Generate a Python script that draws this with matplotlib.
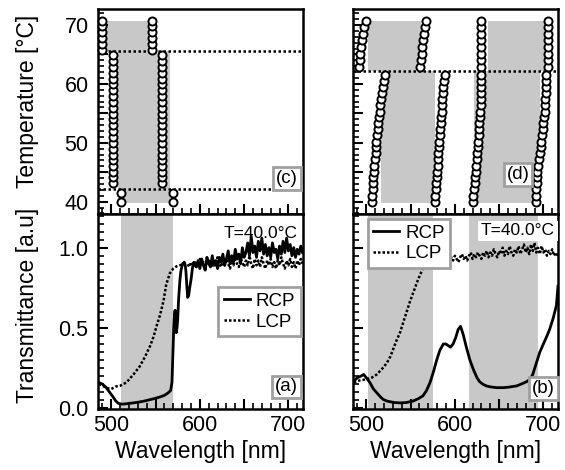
import matplotlib
matplotlib.use("Agg")
import matplotlib.pyplot as plt
import numpy as np
from matplotlib.ticker import MultipleLocator, FuncFormatter

plt.rcParams['font.family'] = ['Liberation Sans', 'DejaVu Sans']

"----- data read off the figure -----"
# (c) band edges vs temperature (single pitch sample)
c_T_top = [65.8, 66.8, 67.8, 68.8, 69.8, 70.7]
c_T_mid = [43.1, 44.1, 45.1, 46.1, 47.1, 48.0, 49.0, 50.0, 51.0, 52.0, 53.0,
           54.0, 54.9, 55.9, 56.9, 57.9, 58.9, 59.9, 60.9, 61.9, 62.9, 63.9, 64.9]
c_T_low = [40.0, 41.4]
c_wl_left = [489.0, 501.5, 510.5]    # top, mid, low group
c_wl_right = [545.5, 556.8, 569.9]
c_dotted = [42.1, 65.5]
c_gray_top = [494.7, 541.6, 65.5, 70.6]   # wl0, wl1, T0, T1
c_gray_low = [508.0, 566.0, 39.7, 65.5]

# (d) band edges vs temperature (double pitch sample)
d_T_top = [62.9, 64.0, 65.1, 66.2, 67.4, 68.5, 69.6, 70.7]
d_T_low = [40.0, 41.0, 42.1, 43.1, 44.1, 45.1, 46.1, 47.2, 48.2, 49.2, 50.2,
           51.3, 52.3, 53.3, 54.3, 55.3, 56.4, 57.4, 58.4, 59.4, 60.5, 61.5]
d_top1 = [491.7, 492.5, 493.3, 494.4, 495.6, 496.3, 497.0, 500.0]
d_top2 = [561.1, 561.8, 562.6, 563.4, 564.1, 564.9, 566.0, 567.1]
d_top3 = [630.0, 630.0, 630.0, 630.0, 630.0, 630.0, 630.0, 630.0]
d_top4 = [705.5, 705.5, 705.5, 705.5, 705.5, 705.5, 705.5, 705.5]
d_low1 = [506.0, 506.5, 507.0, 507.5, 508.0, 508.5, 509.0, 510.0, 510.5, 511.0, 511.5,
          512.0, 513.0, 513.5, 514.0, 515.0, 516.0, 517.0, 518.0, 519.0, 520.0, 521.0]
d_low2 = [577.5, 578.0, 578.5, 579.0, 579.5, 580.0, 580.5, 581.0, 581.5, 582.0, 582.5,
          583.0, 583.5, 584.0, 584.5, 585.0, 585.5, 586.0, 586.5, 587.0, 588.0, 588.7]
d_low3 = [620.0, 620.8, 621.5, 622.2, 622.8, 623.4, 624.0, 624.6, 625.2, 625.8, 626.3,
          626.8, 627.3, 627.8, 628.2, 628.6, 629.0, 629.3, 629.6, 629.8, 630.0, 630.0]
d_low4 = [691.8, 692.0, 692.2, 692.4, 692.5, 693.0, 693.8, 694.8, 695.8, 696.8, 697.5,
          698.5, 699.3, 700.0, 700.7, 701.3, 701.8, 702.2, 702.5, 702.8, 703.0, 703.2]
d_dotted = 62.2
d_gray = [[502.0, 562.0, 62.2, 70.6], [637.0, 703.0, 62.2, 70.6],
          [517.0, 578.0, 39.7, 62.2], [622.0, 696.0, 39.7, 62.2]]

# (a) spectra at 40 C
a_rcp_wl = [486, 490, 494, 498, 502, 505, 508, 512, 516, 520, 525, 530, 535, 540, 545,
            550, 555, 560, 564, 567, 568.5, 569.6, 570.5, 571.3, 572, 572.7, 573.4,
            574.2, 574.9, 576, 577.5, 578.7, 580.5, 582.4, 583.5, 584.3, 585.2, 586.2,
            587.3, 588.5, 590, 591.8]
a_rcp_T = [0.16, 0.15, 0.13, 0.10, 0.07, 0.045, 0.03, 0.025, 0.027, 0.03, 0.033, 0.037,
           0.042, 0.048, 0.055, 0.062, 0.07, 0.08, 0.095, 0.11, 0.16, 0.35, 0.5, 0.58,
           0.61, 0.52, 0.47, 0.5, 0.55, 0.68, 0.8, 0.86, 0.9, 0.91, 0.89, 0.85, 0.77,
           0.69, 0.70, 0.75, 0.80, 0.88]
a_rcp_noisy = [0.90, 0.88, 0.92, 0.87, 0.93, 0.89, 0.86, 0.94, 0.90, 0.88, 0.95, 0.89,
               0.92, 0.87, 0.94, 0.91, 0.96, 0.89, 0.93, 0.98, 0.90, 0.95, 0.91, 0.99,
               0.93, 0.96, 0.90, 1.00, 0.94, 0.97, 1.03, 0.95, 1.07, 0.97, 1.01, 0.94,
               1.04, 0.98, 1.06, 0.96, 1.02, 0.95, 1.00, 0.94, 1.03, 0.97, 0.99, 0.93,
               1.01, 0.96, 1.04, 0.97, 1.06, 0.98, 1.02, 0.95, 1.00, 0.94, 0.99, 0.96,
               1.01, 0.97]          # from 594 nm, every 2 nm
a_lcp_wl = [486, 490, 495, 500, 505, 510, 517, 525, 532, 538, 544, 548, 551, 555, 559,
            562, 566, 570, 574, 580, 584]
a_lcp_T = [0.15, 0.14, 0.125, 0.12, 0.135, 0.14, 0.16, 0.21, 0.26, 0.32, 0.39, 0.45,
           0.51, 0.58, 0.67, 0.77, 0.84, 0.87, 0.885, 0.895, 0.90]
a_lcp_noisy = [0.90, 0.88, 0.91, 0.89, 0.92, 0.88, 0.90, 0.93, 0.89, 0.91, 0.87, 0.92,
               0.90, 0.93, 0.88, 0.91, 0.89, 0.94, 0.90, 0.88, 0.92, 0.89, 0.93, 0.90,
               0.87, 0.92, 0.89, 0.94, 0.90, 0.88, 0.93, 0.91, 0.88, 0.92, 0.89, 0.95,
               0.90, 0.87, 0.93, 0.89, 0.92, 0.88, 0.94, 0.90, 0.87, 0.92, 0.89, 0.93,
               0.88, 0.91, 0.87, 0.92, 0.89, 0.94, 0.90, 0.87, 0.92, 0.89, 0.93, 0.88,
               0.91, 0.87, 0.92, 0.89, 0.93, 0.90]      # from 586 nm, every 2 nm

# (b) spectra at 40 C
b_rcp_wl = [486, 490, 494, 497, 500, 504, 508, 512, 516, 519, 523, 527, 532, 538, 545,
            553, 559, 564, 568, 572, 576, 579.5, 583, 587, 590, 592.5, 595, 598, 601,
            603.7, 606.4, 609.4, 613, 617, 621, 625, 628, 632, 636, 640, 647, 655, 662,
            670, 677, 681, 685, 688, 692, 696, 700, 704, 707, 711, 714.7, 716.5]
b_rcp_T = [0.17, 0.19, 0.20, 0.21, 0.19, 0.16, 0.12, 0.095, 0.07, 0.055, 0.045, 0.04,
           0.035, 0.033, 0.035, 0.045, 0.06, 0.077, 0.11, 0.16, 0.23, 0.30, 0.36, 0.40,
           0.40, 0.39, 0.38, 0.40, 0.44, 0.49, 0.51, 0.46, 0.38, 0.30, 0.24, 0.19, 0.165,
           0.148, 0.138, 0.133, 0.128, 0.128, 0.132, 0.139, 0.155, 0.165, 0.18, 0.21,
           0.28, 0.35, 0.40, 0.45, 0.49, 0.56, 0.64, 0.76]
b_lcp_wl = [486, 490, 495, 500, 506, 511.7, 517, 523, 527, 530.5, 534, 538, 542, 545.6,
            549, 553, 557, 560.6, 564, 568, 572, 575.7, 580]
b_lcp_T = [0.16, 0.17, 0.175, 0.18, 0.19, 0.21, 0.24, 0.28, 0.32, 0.37, 0.42, 0.47,
           0.54, 0.60, 0.66, 0.72, 0.78, 0.83, 0.87, 0.89, 0.91, 0.93, 0.93]
b_lcp_noisy = [0.93, 0.91, 0.94, 0.92, 0.95, 0.93, 0.91, 0.94, 0.92, 0.95, 0.93, 0.91,
               0.94, 0.96, 0.93, 0.95, 0.92, 0.95, 0.97, 0.93, 0.96, 0.94, 0.97, 0.95,
               0.93, 0.97, 0.95, 0.98, 0.94, 0.97, 0.95, 0.99, 0.96, 0.94, 0.98, 0.96,
               1.00, 0.95, 0.98, 0.96, 1.01, 0.97, 0.95, 0.99, 0.97, 1.01, 0.96, 0.99,
               1.02, 0.97, 1.00, 0.96, 1.02, 0.98, 1.03, 0.97, 1.00, 0.96, 1.01, 0.97,
               0.99, 0.95, 0.98, 0.96, 0.99, 0.95, 0.97, 0.95]   # from 582 nm, every 2 nm

"----- figure -----"
gray = '#c8c8c8'
boxgray = '#a0a0a0'
fig = plt.figure(figsize=(5.65, 4.7), dpi=100)

axw = 0.3623
axc = fig.add_axes([0.174, 0.5447, axw, 0.4372])
axd = fig.add_axes([0.6253, 0.5447, axw, 0.4372])
axa = fig.add_axes([0.174, 0.1298, axw, 0.4149])
axb = fig.add_axes([0.6253, 0.1298, axw, 0.4149])

xfmt = FuncFormatter(lambda v, p: '%d' % v if abs(v % 100) < 1e-6 else '')
for ax in (axc, axd, axa, axb):
    ax.set_xlim(485.3, 716.5)
    ax.xaxis.set_major_locator(MultipleLocator(50))
    ax.xaxis.set_minor_locator(MultipleLocator(10))
    ax.tick_params(which='both', direction='in', top=False, right=False, labelsize=15.5)
    ax.tick_params(which='major', length=7, width=1.5)
    ax.tick_params(which='minor', length=4, width=1.2)
    ax.tick_params(axis='y', pad=7)
    ax.tick_params(axis='x', pad=4)
    for s in ax.spines.values():
        s.set_linewidth(1.8)

for ax in (axc, axd):
    ax.set_ylim(37.9, 72.8)
    ax.yaxis.set_major_locator(MultipleLocator(5))
    ax.yaxis.set_minor_locator(MultipleLocator(1))
    ax.yaxis.set_major_formatter(FuncFormatter(lambda v, p: '%d' % v if abs(v % 10) < 1e-6 else ''))
    ax.tick_params(axis='x', labelbottom=False)

for ax in (axa, axb):
    ax.set_ylim(-0.005, 1.21)
    ax.yaxis.set_major_locator(MultipleLocator(0.5))
    ax.yaxis.set_minor_locator(MultipleLocator(0.05))
    ax.yaxis.set_major_formatter(FuncFormatter(lambda v, p: '%.1f' % v))
    ax.xaxis.set_major_formatter(xfmt)
    ax.set_xlabel('Wavelength [nm]', fontsize=16.5, labelpad=3)

axd.tick_params(axis='y', labelleft=False)
axb.tick_params(axis='y', labelleft=False)

# (c)
for g in (c_gray_top, c_gray_low):
    axc.fill_between([g[0], g[1]], g[2], g[3], color=gray, lw=0, zorder=0)
for y in c_dotted:
    axc.axhline(y, color='k', lw=1.8, ls=(0, (1, 1)), zorder=1)
circ = dict(ls='none', marker='o', ms=5.8, mfc='white', mec='k', mew=1.4, zorder=3, clip_on=False)
for wl, T in zip(c_wl_left + c_wl_right, [c_T_top, c_T_mid, c_T_low] * 2):
    axc.plot([wl] * len(T), T, **circ)
axc.text(0.975, 0.13, '(c)', transform=axc.transAxes, ha='right', va='bottom', fontsize=13.5,
         bbox=dict(boxstyle='square,pad=0.15', fc='white', ec=boxgray, lw=2), zorder=6)
axc.set_ylabel('Temperature [°C]', fontsize=16.5)
axc.yaxis.set_label_coords(-0.29, 0.547)

# (d)
for g in d_gray:
    axd.fill_between([g[0], g[1]], g[2], g[3], color=gray, lw=0, zorder=0)
axd.axhline(d_dotted, color='k', lw=1.8, ls=(0, (1, 1)), zorder=1)
for wl in (d_top1, d_top2, d_top3, d_top4):
    axd.plot(wl, d_T_top, **circ)
for wl in (d_low1, d_low2, d_low3, d_low4):
    axd.plot(wl, d_T_low, **circ)
axd.text(0.86, 0.15, '(d)', transform=axd.transAxes, ha='right', va='bottom', fontsize=13.5,
         bbox=dict(boxstyle='square,pad=0.15', fc='white', ec=boxgray, lw=2), zorder=6)

# (a)
axa.axvspan(510.5, 569.9, color=gray, lw=0, zorder=0)
wl_r = np.concatenate([a_rcp_wl, 594 + 2 * np.arange(len(a_rcp_noisy))])
wl_l = np.concatenate([a_lcp_wl, 586 + 2 * np.arange(len(a_lcp_noisy))])
axa.plot(wl_r, np.concatenate([a_rcp_T, a_rcp_noisy]), color='k', lw=2, label='RCP', zorder=3)
axa.plot(wl_l, np.concatenate([a_lcp_T, a_lcp_noisy]), color='k', lw=1.8, ls=(0, (1, 0.8)),
         label='LCP', zorder=2)
leg = axa.legend(loc='upper right', bbox_to_anchor=(0.99, 0.625), fontsize=13.5,
                 fancybox=False, framealpha=1, edgecolor=boxgray, handlelength=1.4,
                 handletextpad=0.3, borderpad=0.3, labelspacing=0.2, borderaxespad=0)
leg.get_frame().set_linewidth(2)
axa.text(0.975, 0.90, 'T=40.0°C', transform=axa.transAxes, ha='right', va='center',
         fontsize=12.5, zorder=6)
axa.text(0.975, 0.07, '(a)', transform=axa.transAxes, ha='right', va='bottom', fontsize=13.5,
         bbox=dict(boxstyle='square,pad=0.15', fc='white', ec=boxgray, lw=2), zorder=6)
axa.set_ylabel('Transmittance [a.u]', fontsize=16.5)
axa.yaxis.set_label_coords(-0.29, 0.53)

# (b)
axb.axvspan(502, 575, color=gray, lw=0, zorder=0)
axb.axvspan(616, 694, color=gray, lw=0, zorder=0)
wl_l = np.concatenate([b_lcp_wl, 582 + 2 * np.arange(len(b_lcp_noisy))])
axb.plot(b_rcp_wl, b_rcp_T, color='k', lw=2, label='RCP', zorder=3)
axb.plot(wl_l, np.concatenate([b_lcp_T, b_lcp_noisy]), color='k', lw=1.8, ls=(0, (1, 0.8)),
         label='LCP', zorder=2)
leg = axb.legend(loc='upper left', bbox_to_anchor=(0.07, 0.975), fontsize=13.5,
                 fancybox=False, framealpha=1, edgecolor=boxgray, handlelength=1.4,
                 handletextpad=0.3, borderpad=0.3, labelspacing=0.2, borderaxespad=0)
leg.get_frame().set_linewidth(2)
axb.text(0.985, 0.913, 'T=40.0°C', transform=axb.transAxes, ha='right', va='center',
         fontsize=12.5, zorder=6, bbox=dict(boxstyle='square,pad=0.15', fc='white', ec='none'))
axb.text(0.985, 0.06, '(b)', transform=axb.transAxes, ha='right', va='bottom', fontsize=13.5,
         bbox=dict(boxstyle='square,pad=0.15', fc='white', ec=boxgray, lw=2), zorder=6)

plt.savefig('out.png', dpi=100)
